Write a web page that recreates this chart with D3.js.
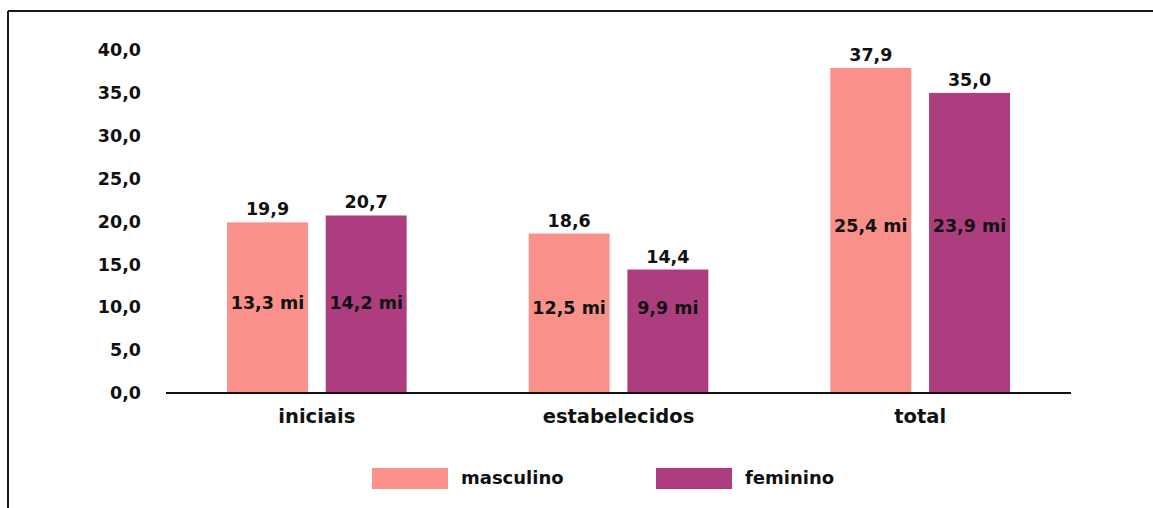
<!DOCTYPE html>
<html>
<head>
<meta charset="utf-8">
<script src="https://cdnjs.cloudflare.com/ajax/libs/d3/7.8.5/d3.min.js"></script>
<style>
  html, body { margin: 0; padding: 0; background: #fff; }
  svg { display: block; }
  text { font-family: "DejaVu Sans", sans-serif; font-weight: bold; fill: #111; }
</style>
</head>
<body>
<div id="chart"></div>
<script>
// chart data
const categories = ['iniciais', 'estabelecidos', 'total'];
const seriesNames = ['masculino', 'feminino'];
const masculino = [19.9, 18.6, 37.9];
const feminino = [20.7, 14.4, 35.0];
const masculinoMi = ['13,3 mi', '12,5 mi', '25,4 mi'];
const femininoMi = ['14,2 mi', '9,9 mi', '23,9 mi'];
const yTicks = [0, 5, 10, 15, 20, 25, 30, 35, 40];
const colors = ['#f9908a', '#ae3d7f'];

const W = 1153, H = 508;
const margin = { top: 50, left: 166, right: 82, bottom: 115 };

const svg = d3.select('#chart').append('svg')
  .attr('width', W)
  .attr('height', H);

// frame (top + left only)
svg.append('line').attr('x1', 8).attr('x2', W).attr('y1', 11).attr('y2', 11)
  .attr('stroke', '#1a1a1a').attr('stroke-width', 2);
svg.append('line').attr('x1', 8).attr('x2', 8).attr('y1', 11).attr('y2', H)
  .attr('stroke', '#1a1a1a').attr('stroke-width', 2);

const x0 = d3.scaleBand()
  .domain(categories)
  .range([margin.left, W - margin.right]);

const x1 = d3.scaleBand()
  .domain(seriesNames)
  .range([61, x0.bandwidth() - 61])
  .paddingInner(0.18);

const y = d3.scaleLinear()
  .domain([0, 40])
  .range([H - margin.bottom, margin.top]);

const fmt = v => d3.format('.1f')(v).replace('.', ',');

// y tick labels (no axis line)
svg.append('g')
  .selectAll('text')
  .data(yTicks)
  .join('text')
  .attr('x', 141)
  .attr('y', d => y(d))
  .attr('dy', '0.35em')
  .attr('text-anchor', 'end')
  .attr('font-size', 17.5)
  .text(d => fmt(d));

// rows for bars
const rows = categories.map((c, i) => ({
  cat: c,
  vals: [
    { s: 'masculino', v: masculino[i], mi: masculinoMi[i] },
    { s: 'feminino', v: feminino[i], mi: femininoMi[i] }
  ],
  labelVal: masculino[i] / 2
}));

const groups = svg.append('g')
  .selectAll('g')
  .data(rows)
  .join('g')
  .attr('transform', d => `translate(${x0(d.cat)},0)`);

groups.selectAll('rect')
  .data(d => d.vals)
  .join('rect')
  .attr('x', d => x1(d.s))
  .attr('width', x1.bandwidth())
  .attr('y', d => y(d.v))
  .attr('height', d => y(0) - y(d.v))
  .attr('fill', (d, i) => colors[i]);

// value labels above bars
groups.selectAll('text.val')
  .data(d => d.vals)
  .join('text')
  .attr('class', 'val')
  .attr('x', d => x1(d.s) + x1.bandwidth() / 2)
  .attr('y', d => y(d.v) - 7)
  .attr('text-anchor', 'middle')
  .attr('font-size', 17.5)
  .text(d => fmt(d.v));

// "mi" labels inside bars
groups.each(function (row) {
  d3.select(this).selectAll('text.mi')
    .data(row.vals)
    .join('text')
    .attr('class', 'mi')
    .attr('x', d => x1(d.s) + x1.bandwidth() / 2)
    .attr('y', y(row.labelVal) - 5)
    .attr('dy', '0.35em')
    .attr('text-anchor', 'middle')
    .attr('font-size', 17.5)
    .text(d => d.mi);
});

// x axis baseline
svg.append('line')
  .attr('x1', margin.left).attr('x2', W - margin.right)
  .attr('y1', y(0)).attr('y2', y(0))
  .attr('stroke', '#111').attr('stroke-width', 2);

// category labels
svg.append('g')
  .selectAll('text')
  .data(categories)
  .join('text')
  .attr('x', d => x0(d) + x0.bandwidth() / 2)
  .attr('y', 416)
  .attr('dy', '0.35em')
  .attr('text-anchor', 'middle')
  .attr('font-size', 19.5)
  .text(d => d);

// legend
const legendX = [372, 656];
const legend = svg.append('g')
  .selectAll('g')
  .data(seriesNames)
  .join('g')
  .attr('transform', (d, i) => `translate(${legendX[i]},468)`);

legend.append('rect')
  .attr('width', 76)
  .attr('height', 21)
  .attr('fill', (d, i) => colors[i]);

legend.append('text')
  .attr('x', 89)
  .attr('y', 10)
  .attr('dy', '0.35em')
  .attr('font-size', 18)
  .text(d => d);
</script>
</body>
</html>
